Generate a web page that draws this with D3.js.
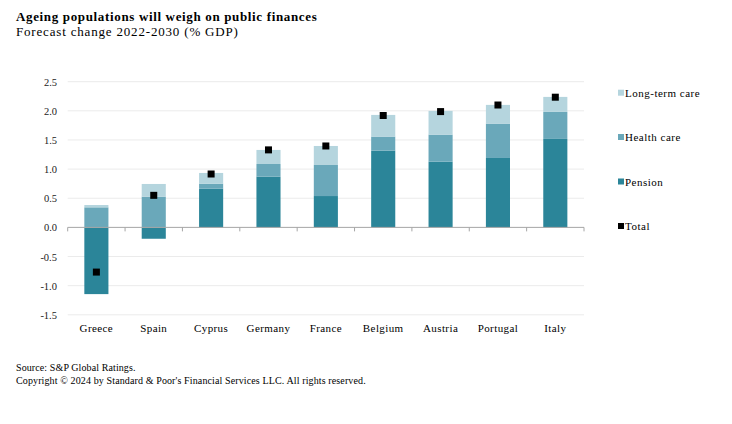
<!DOCTYPE html>
<html><head><meta charset="utf-8">
<script src="https://cdn.jsdelivr.net/npm/d3@7"></script>
<style>body{margin:0;background:#fff}svg{display:block;font-family:"Liberation Serif","Times New Roman",serif}</style>
</head><body><svg id="c" width="732" height="424"></svg>
<script>
const categories = ["Greece","Spain","Cyprus","Germany","France","Belgium","Austria","Portugal","Italy"];
const pension = [-1.145,-0.195,0.664,0.87,0.538,1.317,1.128,1.191,1.518];
const healthCare = [0.344,0.527,0.086,0.218,0.533,0.241,0.464,0.59,0.464];
const longTermCare = [0.04,0.218,0.184,0.241,0.326,0.372,0.407,0.321,0.257];
const total = [-0.767,0.55,0.916,1.33,1.397,1.92,1.987,2.1,2.234];
const yTicks = [-1.5,-1.0,-0.5,0.0,0.5,1.0,1.5,2.0,2.5];
const seriesNames = ["Long-term care","Health care","Pension","Total"];
const colors = {pension:"#2b8599", health:"#6aa8ba", ltc:"#b5d5de", total:"#000"};

const svg = d3.select("#c");
svg.append("rect").attr("width",732).attr("height",424).attr("fill","#fff");
const L=67.7, R=584, T=81.7, B=314.8;
const x = d3.scaleBand().domain(categories).range([L,R]).paddingInner(0.58).paddingOuter(0.29);
const xb = d3.scaleBand().domain(categories).range([L,R]);
const y = d3.scaleLinear().domain([-1.5,2.5]).range([B,T]);

// title
svg.append("text").attr("x",16).attr("y",21).attr("font-size",13).attr("font-weight","bold").attr("letter-spacing",0.65).text("Ageing populations will weigh on public finances");
svg.append("text").attr("x",16).attr("y",36).attr("font-size",13).attr("letter-spacing",0.82).text("Forecast change 2022-2030 (% GDP)");

// grid
svg.append("g").selectAll("line").data(yTicks.filter(d=>d!==0)).join("line")
  .attr("x1",L).attr("x2",R).attr("y1",d=>y(d)).attr("y2",d=>y(d)).attr("stroke","#ebebeb").attr("stroke-width",1);
// y labels
svg.append("g").selectAll("text").data(yTicks).join("text")
  .attr("x",57).attr("y",d=>y(d)+4).attr("text-anchor","end").attr("font-size",10.5).attr("fill","#222")
  .text(d=>d3.format(".1f")(d).replace("−","-"));

// bars
const stacks = categories.map((c,i)=>{
  const segs=[]; let pos=0, neg=0;
  [[pension[i],colors.pension],[healthCare[i],colors.health],[longTermCare[i],colors.ltc]].forEach(([v,col])=>{
    if(v>=0){segs.push({c,y0:pos,y1:pos+v,col});pos+=v;}else{segs.push({c,y0:neg+v,y1:neg,col});neg+=v;}
  });
  return segs;
}).flat();
svg.append("g").selectAll("rect").data(stacks).join("rect")
  .attr("x",d=>x(d.c)).attr("width",x.bandwidth())
  .attr("y",d=>y(d.y1)).attr("height",d=>y(d.y0)-y(d.y1)).attr("fill",d=>d.col);

// zero axis
svg.append("line").attr("x1",L).attr("x2",R).attr("y1",y(0)).attr("y2",y(0)).attr("stroke","#a6a6a6");
svg.append("g").selectAll("line").data(d3.range(categories.length+1)).join("line")
  .attr("x1",i=>L+i*xb.bandwidth()).attr("x2",i=>L+i*xb.bandwidth())
  .attr("y1",y(0)).attr("y2",y(0)+4).attr("stroke","#a6a6a6");

// totals
svg.append("g").selectAll("rect").data(total).join("rect")
  .attr("x",(d,i)=>x(categories[i])+x.bandwidth()/2-3.5).attr("y",d=>y(d)-3.5)
  .attr("width",7).attr("height",7).attr("fill",colors.total);

// x labels
svg.append("g").selectAll("text").data(categories).join("text")
  .attr("x",d=>x(d)+x.bandwidth()/2).attr("y",332).attr("text-anchor","middle").attr("font-size",11).attr("letter-spacing",0.4)
  .text(d=>d);

// legend
const legCols=[colors.ltc,colors.health,colors.pension,colors.total];
const legY=[92.7,137,181.5,226];
const lg=svg.append("g").selectAll("g").data(seriesNames).join("g");
lg.append("rect").attr("x",618).attr("y",(d,i)=>legY[i]-3).attr("width",6).attr("height",6).attr("fill",(d,i)=>legCols[i]);
lg.append("text").attr("x",625).attr("y",(d,i)=>legY[i]+4).attr("font-size",11).attr("letter-spacing",0.5).text(d=>d);

// footer
svg.append("text").attr("x",16).attr("y",371).attr("font-size",10).attr("letter-spacing",0.1).text("Source: S&P Global Ratings.");
svg.append("text").attr("x",16).attr("y",384).attr("font-size",10).attr("letter-spacing",0.12).text("Copyright © 2024 by Standard & Poor's Financial Services LLC. All rights reserved.");
</script></body></html>
